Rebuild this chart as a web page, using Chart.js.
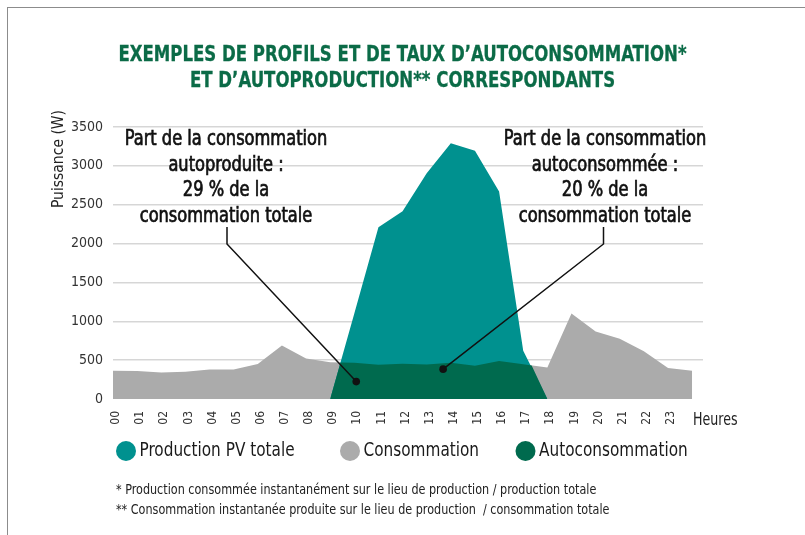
<!DOCTYPE html>
<html lang="fr">
<head>
<meta charset="utf-8">
<title>Profils d'autoconsommation</title>
<script src="https://cdn.jsdelivr.net/npm/chart.js@4.4.1/dist/chart.umd.min.js"></script>
<style>
  body { margin: 0; background: #fff; }
  #wrap { position: relative; width: 805px; height: 535px; overflow: hidden; }
  #frame { position: absolute; left: 7px; top: 7px; width: 810px; height: 540px;
           border-top: 1px solid #8c8c8c; border-left: 1px solid #8c8c8c; }
  canvas { position: absolute; left: 0; top: 0; }
</style>
</head>
<body>
<div id="wrap">
  <div id="frame"></div>
  <canvas id="chart" width="805" height="535"></canvas>
</div>
<script>
// hours of the day (24 = end of the last hour)
const hours = [0, 1, 2, 3, 4, 5, 6, 7, 8, 9, 10, 11, 12, 13, 14, 15, 16, 17, 18, 19, 20, 21, 22, 23, 24];
const hourLabels = ['00', '01', '02', '03', '04', '05', '06', '07', '08', '09', '10', '11',
                    '12', '13', '14', '15', '16', '17', '18', '19', '20', '21', '22', '23'];

// Consommation (W)
const consumption = [365, 360, 340, 352, 378, 380, 450, 690, 520, 472, 465, 440, 452,
                     444, 465, 428, 490, 448, 405, 1100, 868, 775, 615, 400, 362];

// Production PV totale (W)
const pvHours = [9, 10, 11, 12, 13, 14, 15, 16, 17, 18];
const pvProduction = [0, 1100, 2210, 2415, 2905, 3290, 3195, 2670, 620, 0];

// Autoconsommation (W) - where production meets consumption
const autoHours = [9, 9.43, 10, 11, 12, 13, 14, 15, 16, 17, 17.35, 18];
const autoConsumption = [0, 470, 465, 440, 452, 444, 465, 428, 490, 448, 430, 0];

const seriesNames = ['Production PV totale', 'Consommation', 'Autoconsommation'];
const seriesColors = ['#00918f', '#ababab', '#006a4e'];

const titleLines = ['EXEMPLES DE PROFILS ET DE TAUX D\u2019AUTOCONSOMMATION*',
                    'ET D\u2019AUTOPRODUCTION** CORRESPONDANTS'];
const footnotes = ['* Production consommée instantanément sur le lieu de production / production totale',
                   '** Consommation instantanée produite sur le lieu de production  / consommation totale'];

const leftNote = ['Part de la consommation', 'autoproduite :', '29 % de la', 'consommation totale'];
const rightNote = ['Part de la consommation', 'autoconsommée :', '20 % de la', 'consommation totale'];

const FONT = '"Liberation Sans Narrow", "DejaVu Sans Condensed", "Roboto Condensed", Roboto, sans-serif';

const toPoints = (xs, ys) => xs.map((x, i) => ({ x: x, y: ys[i] }));

// draws text squeezed horizontally (the original uses a condensed face)
function squeezed(ctx, text, x, y, sx, stroke) {
  ctx.save();
  ctx.translate(x, y);
  ctx.scale(sx, 1);
  ctx.fillText(text, 0, 0);
  if (stroke) {
    ctx.lineWidth = stroke;
    ctx.strokeStyle = ctx.fillStyle;
    ctx.strokeText(text, 0, 0);
  }
  ctx.restore();
}

// title, text, pointers, legend and footnotes drawn on top of the chart
const notesPlugin = {
  id: 'notes',
  afterDraw(chart) {
    const ctx = chart.ctx;
    const xs = chart.scales.x, ys = chart.scales.y;
    ctx.save();
    ctx.textBaseline = 'alphabetic';

    // title
    ctx.font = 'bold 22px ' + FONT;
    ctx.fillStyle = '#0b6b47';
    ctx.textAlign = 'center';
    titleLines.forEach((t, i) => squeezed(ctx, t, 402.5, 60.8 + i * 26.6, 0.837, 0.3));

    // y axis title
    ctx.save();
    ctx.translate(63, 159);
    ctx.rotate(-Math.PI / 2);
    ctx.font = '15.5px ' + FONT;
    ctx.fillStyle = '#222';
    ctx.textAlign = 'center';
    ctx.fillText('Puissance (W)', 0, 0);
    ctx.restore();

    // x axis unit
    ctx.font = '18px ' + FONT;
    ctx.fillStyle = '#222';
    ctx.textAlign = 'left';
    squeezed(ctx, 'Heures', 693, 425, 0.78);

    // annotations with leader lines
    const notes = [
      { lines: leftNote, cx: 226, elbowX: 227, target: { x: 10.08, y: 224 } },
      { lines: rightNote, cx: 605, elbowX: 603.5, target: { x: 13.68, y: 384 } }
    ];
    notes.forEach(n => {
      ctx.font = '21px ' + FONT;
      ctx.fillStyle = '#111';
      ctx.textAlign = 'center';
      n.lines.forEach((t, i) => squeezed(ctx, t, n.cx, 145 + i * 25.5, 0.86, 0.7));
      const px = xs.getPixelForValue(n.target.x);
      const py = ys.getPixelForValue(n.target.y);
      ctx.strokeStyle = '#111';
      ctx.lineWidth = 1.5;
      ctx.beginPath();
      ctx.moveTo(n.elbowX, 227);
      ctx.lineTo(n.elbowX, 244);
      ctx.lineTo(px, py);
      ctx.stroke();
      ctx.beginPath();
      ctx.arc(px, py, 3.8, 0, Math.PI * 2);
      ctx.fill();
    });

    // legend
    const legendX = [126, 350, 525.5];
    chart.data.datasets.forEach((ds, i) => {
      ctx.fillStyle = ds.backgroundColor;
      ctx.beginPath();
      ctx.arc(legendX[i], 451, 10, 0, Math.PI * 2);
      ctx.fill();
      ctx.font = '19px ' + FONT;
      ctx.fillStyle = '#1a1a1a';
      ctx.textAlign = 'left';
      ctx.textBaseline = 'middle';
      squeezed(ctx, ds.label, legendX[i] + 13.5, 451, 0.895);
    });

    // footnotes
    ctx.font = '13.5px ' + FONT;
    ctx.fillStyle = '#222';
    ctx.textAlign = 'left';
    ctx.textBaseline = 'alphabetic';
    footnotes.forEach((t, i) => squeezed(ctx, t, 116, 494 + i * 19.5, 0.923));

    ctx.restore();
  }
};

const ctx = document.getElementById('chart').getContext('2d');
const chart = new Chart(ctx, {
  type: 'line',
  data: {
    datasets: [
      {
        label: seriesNames[0],
        data: toPoints(pvHours, pvProduction),
        backgroundColor: seriesColors[0],
        fill: 'origin',
        order: 1
      },
      {
        label: seriesNames[1],
        data: toPoints(hours, consumption),
        backgroundColor: seriesColors[1],
        fill: 'origin',
        order: 2
      },
      {
        label: seriesNames[2],
        data: toPoints(autoHours, autoConsumption),
        backgroundColor: seriesColors[2],
        fill: 'origin',
        order: 0
      }
    ]
  },
  options: {
    responsive: false,
    animation: false,
    elements: {
      point: { radius: 0, hoverRadius: 0 },
      line: { borderWidth: 0, tension: 0 }
    },
    layout: { padding: { top: 127, left: 0, right: 102, bottom: 104 } },
    plugins: {
      legend: { display: false },
      tooltip: { enabled: false },
      title: { display: false }
    },
    scales: {
      x: {
        type: 'linear',
        min: 0,
        max: 24.45,
        grid: { display: false, drawTicks: false },
        border: { display: false },
        ticks: {
          stepSize: 1,
          autoSkip: false,
          minRotation: 90,
          maxRotation: 90,
          padding: 12,
          labelOffset: 3,
          color: '#333',
          font: { family: FONT, size: 12 },
          callback: v => hourLabels[v] ?? ''
        },
        afterFit: scale => { scale.height = 32; }
      },
      y: {
        min: 0,
        max: 3500,
        z: 1,
        grid: {
          drawTicks: false,
          lineWidth: 1.5,
          color: c => c.tick.value === 0 ? 'rgba(0,0,0,0)' : 'rgba(0,0,0,0.16)'
        },
        border: { display: false },
        ticks: {
          stepSize: 500,
          padding: 10,
          color: '#333',
          font: { family: FONT, size: 14 },
          callback: v => String(v)
        },
        afterFit: scale => { scale.width = 113; }
      }
    }
  },
  plugins: [notesPlugin]
});
</script>
</body>
</html>
